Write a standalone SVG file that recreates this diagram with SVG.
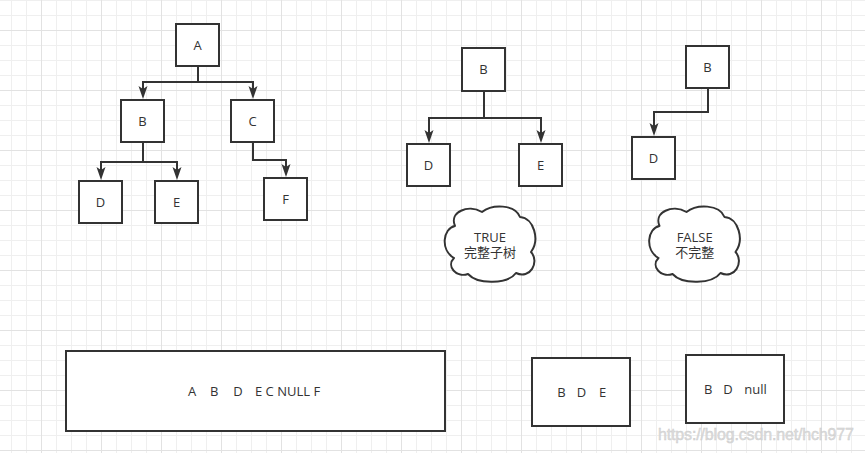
<svg xmlns="http://www.w3.org/2000/svg" width="865" height="453" viewBox="0 0 865 453">
  <style>
    .box { fill: #ffffff; stroke: #333333; stroke-width: 2; }
    .edge { fill: none; stroke: #333333; stroke-width: 2; marker-end: url(#arrow); }
    .lbl { font-family: "Open Sans", "Noto Sans CJK SC", sans-serif; font-size: 13px; fill: #333333; text-anchor: middle; }
    .seq { font-family: "Open Sans", "Noto Sans CJK SC", sans-serif; font-size: 13px; fill: #333333; }
    .cloud { fill: #ffffff; stroke: #333333; stroke-width: 2; stroke-linejoin: round; }
    .mark { font-family: "Liberation Sans", Arial, sans-serif; font-size: 16px; fill: #dcdcdc; stroke: #cacaca; stroke-width: 0.4; }
  </style>
  <defs>
    <pattern id="grid" width="60" height="60" patternUnits="userSpaceOnUse" x="11" y="0">
      <rect x="0" y="0" width="60" height="60" fill="#ffffff"/>
      <g fill="#efefef">
        <rect x="0" y="0" width="1" height="60"/>
        <rect x="15" y="0" width="1" height="60"/>
        <rect x="45" y="0" width="1" height="60"/>
        <rect x="0" y="0" width="60" height="1"/>
        <rect x="0" y="15" width="60" height="1"/>
        <rect x="0" y="45" width="60" height="1"/>
      </g>
      <g fill="#e2e2e2">
        <rect x="30" y="0" width="1" height="60"/>
        <rect x="0" y="30" width="60" height="1"/>
      </g>
    </pattern>
    <marker id="arrow" markerUnits="userSpaceOnUse" markerWidth="14" markerHeight="10" refX="3" refY="4.5" orient="auto" overflow="visible">
      <path d="M0,0 L13,4.5 L0,9 L3,4.5 Z" fill="#333333"/>
    </marker>
    <path id="cloudShape" d="M455,226 C449,212 468,204 482,212 C492,204 515,204 520,217 C534,218 540,240 531,252 C540,262 530,280 516,273 C508,284 478,285 468,274 C456,278 446,266 454,258 C440,250 443,228 455,226 Z"/>
  </defs>

  <rect x="0" y="0" width="865" height="453" fill="url(#grid)"/>

  <g id="connectors">
    <path class="edge" d="M198,67 V82 H143 V89"/>
    <path class="edge" d="M198,67 V82 H253 V89"/>
    <path class="edge" d="M143,142 V162 H101 V170"/>
    <path class="edge" d="M143,142 V162 H177 V170"/>
    <path class="edge" d="M253,142 V160 H286 V167"/>
    <path class="edge" d="M484,91 V118 H429 V133"/>
    <path class="edge" d="M484,91 V118 H541 V133"/>
    <path class="edge" d="M708,88 V112 H654 V126"/>
  </g>

  <g id="t1-A"><rect class="box" x="176" y="24" width="43" height="42"/><text class="lbl" x="197.5" y="49.6">A</text></g>
  <g id="t1-B"><rect class="box" x="121" y="100" width="43" height="42"/><text class="lbl" x="142.5" y="125.6">B</text></g>
  <g id="t1-C"><rect class="box" x="231" y="100" width="43" height="42"/><text class="lbl" x="252.5" y="125.6">C</text></g>
  <g id="t1-D"><rect class="box" x="79" y="181" width="43" height="42"/><text class="lbl" x="100.5" y="206.6">D</text></g>
  <g id="t1-E"><rect class="box" x="155" y="181" width="43" height="42"/><text class="lbl" x="176.5" y="206.6">E</text></g>
  <g id="t1-F"><rect class="box" x="264" y="178" width="43" height="42"/><text class="lbl" x="285.5" y="203.6">F</text></g>

  <g id="t2-B"><rect class="box" x="462" y="48" width="43" height="43"/><text class="lbl" x="483.5" y="74.2">B</text></g>
  <g id="t2-D"><rect class="box" x="407" y="144" width="43" height="42"/><text class="lbl" x="428.5" y="169.6">D</text></g>
  <g id="t2-E"><rect class="box" x="519" y="144" width="43" height="42"/><text class="lbl" x="540.5" y="169.6">E</text></g>

  <g id="t3-B"><rect class="box" x="686" y="46" width="43" height="42"/><text class="lbl" x="707.5" y="71.6">B</text></g>
  <g id="t3-D"><rect class="box" x="632" y="137" width="43" height="42"/><text class="lbl" x="653.5" y="162.6">D</text></g>

  <g id="cloud-true">
    <use href="#cloudShape" class="cloud"/>
    <text class="lbl"><tspan x="490" y="241.5">TRUE</tspan><tspan x="490" y="257">完整子树</tspan></text>
  </g>
  <g id="cloud-false">
    <use href="#cloudShape" class="cloud" transform="translate(204.5,0)"/>
    <text class="lbl"><tspan x="694.7" y="241.5">FALSE</tspan><tspan x="694.7" y="257">不完整</tspan></text>
  </g>

  <g id="seq-full">
    <rect class="box" x="66" y="351" width="379" height="80"/>
    <text class="seq" y="396.3"><tspan x="188">A</tspan><tspan x="210">B</tspan><tspan x="233.3">D</tspan><tspan x="255">E C NULL F</tspan></text>
  </g>
  <g id="seq-true">
    <rect class="box" x="532" y="358" width="98" height="68"/>
    <text class="seq" y="396.6"><tspan x="557.3">B</tspan><tspan x="576.7">D</tspan><tspan x="599">E</tspan></text>
  </g>
  <g id="seq-false">
    <rect class="box" x="686" y="355" width="98" height="68"/>
    <text class="seq" y="393.8"><tspan x="704">B</tspan><tspan x="723.3">D</tspan><tspan x="744.3">null</tspan></text>
  </g>

  <text class="mark" x="658" y="440" textLength="196">https://blog.csdn.net/hch977</text>
</svg>
